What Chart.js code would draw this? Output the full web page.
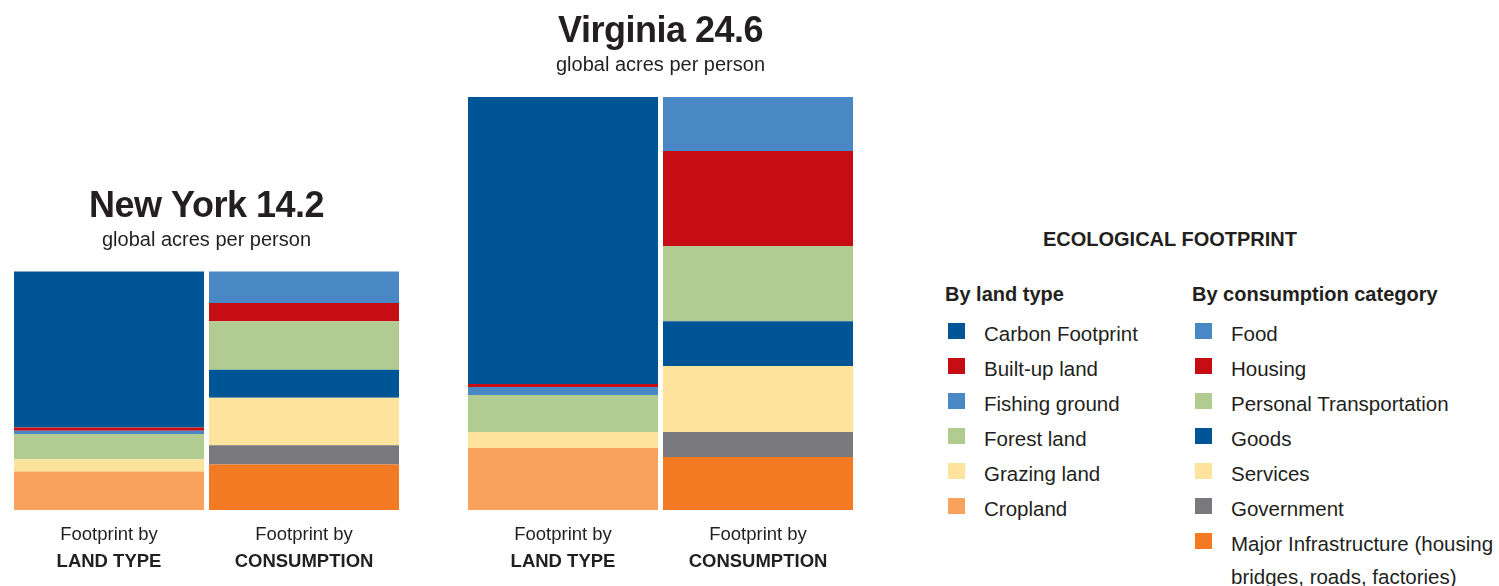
<!DOCTYPE html>
<html>
<head>
<meta charset="utf-8">
<title>Ecological Footprint</title>
<script src="https://cdn.jsdelivr.net/npm/chart.js@4.4.1/dist/chart.umd.min.js"></script>
<style>
  body {
    margin: 0;
    width: 1499px;
    height: 586px;
    overflow: hidden;
    position: relative;
    background: #fff;
    font-family: "Liberation Sans", Arial, Helvetica, sans-serif;
    color: #231f20;
  }
  .chart-box { position: absolute; top: 0; height: 586px; }
  #nyBox { left: 0; width: 420px; }
  #vaBox { left: 440px; width: 440px; }
  .legend-head {
    position: absolute;
    font-weight: bold;
    font-size: 20px;
    line-height: 20px;
    white-space: nowrap;
  }
  .legend-row {
    position: absolute;
    font-size: 20.5px;
    line-height: 35px;
    white-space: nowrap;
    padding-left: 39px;
  }
  .legend-row.wrap { white-space: normal; width: 270px; line-height: 33px; }
  .legend-row .swatch { position: absolute; left: 3px; top: 7.5px; width: 17px; height: 16px; }
  .legend-row.wrap .swatch { top: 6.5px; }
</style>
</head>
<body>
<div class="chart-box" id="nyBox"><canvas id="nyChart"></canvas></div>
<div class="chart-box" id="vaBox"><canvas id="vaChart"></canvas></div>
<div id="legend"></div>

<script>
// Ecological footprint per person, global acres
const states = ['New York', 'Virginia'];
const totals = [14.2, 24.6];
const barNames = ['LAND TYPE', 'CONSUMPTION'];

const landTypes = ['Carbon Footprint', 'Built-up land', 'Fishing ground', 'Forest land', 'Grazing land', 'Cropland'];
const consumptionCategories = ['Food', 'Housing', 'Personal Transportation', 'Goods', 'Services', 'Government',
    'Major Infrastructure (housing bridges, roads, factories)'];

const newYorkLand = [9.28, 0.20, 0.20, 1.50, 0.72, 2.30];
const newYorkConsumption = [1.87, 1.08, 2.89, 1.68, 2.83, 1.14, 2.71];
const virginiaLand = [17.09, 0.18, 0.48, 2.20, 0.95, 3.70];
const virginiaConsumption = [3.22, 5.66, 4.47, 2.68, 3.93, 1.49, 3.15];

const landColors = ['#005596', '#c50d13', '#4a88c5', '#b2cb91', '#fee39c', '#f8a25e'];
const consumptionColors = ['#4a88c5', '#c50d13', '#b2cb91', '#005596', '#fee39c', '#79797d', '#f37a22'];

const FONT = '"Liberation Sans", Arial, Helvetica, sans-serif';
const TEXT = '#231f20';

function buildDatasets(land, consumption) {
    const sets = [];
    // stacks grow from the bottom, so the last legend entry goes in first
    for (let i = landTypes.length - 1; i >= 0; i--) {
        sets.push({ label: landTypes[i], data: [land[i], null], backgroundColor: landColors[i] });
    }
    for (let i = consumptionCategories.length - 1; i >= 0; i--) {
        sets.push({ label: consumptionCategories[i], data: [null, consumption[i]], backgroundColor: consumptionColors[i] });
    }
    return sets;
}

// state name + total over the stacks, two-line caption under each bar
const stateTitles = {
    id: 'stateTitles',
    afterDraw(chart, args, opts) {
        const ctx = chart.ctx;
        const x = chart.scales.x;
        const y = chart.scales.y;
        const area = chart.chartArea;
        const cx = (area.left + area.right) / 2;
        const top = y.getPixelForValue(opts.total);
        ctx.save();
        ctx.fillStyle = TEXT;
        ctx.textAlign = 'center';
        ctx.textBaseline = 'alphabetic';
        ctx.font = 'bold 36px ' + FONT;
        ctx.letterSpacing = '-0.5px';
        ctx.fillText(opts.name + ' ' + opts.total.toFixed(1), cx, top - 55);
        ctx.letterSpacing = '0px';
        ctx.font = '20px ' + FONT;
        ctx.fillText('global acres per person', cx, top - 26);
        barNames.forEach((name, i) => {
            const bx = x.getPixelForValue(i);
            ctx.font = '18.5px ' + FONT;
            ctx.fillText('Footprint by', bx, y.bottom + 30);
            ctx.font = 'bold 18.5px ' + FONT;
            ctx.fillText(name, bx, y.bottom + 57);
        });
        ctx.restore();
    }
};

function makeChart(canvasId, index, land, consumption, padding) {
    return new Chart(document.getElementById(canvasId), {
        type: 'bar',
        data: { labels: barNames, datasets: buildDatasets(land, consumption) },
        options: {
            responsive: true,
            maintainAspectRatio: false,
            animation: false,
            layout: { padding: padding },
            datasets: { bar: { categoryPercentage: 1, barPercentage: 190 / 195, borderWidth: 0 } },
            scales: {
                x: { stacked: true, display: false },
                y: { stacked: true, display: false, min: 0, max: Math.max(...totals) }
            },
            plugins: {
                legend: { display: false },
                tooltip: { enabled: false },
                stateTitles: { name: states[index], total: totals[index] }
            }
        },
        plugins: [stateTitles]
    });
}

makeChart('nyChart', 0, newYorkLand, newYorkConsumption, { left: 11.5, right: 18.5, top: 97, bottom: 76 });
makeChart('vaChart', 1, virginiaLand, virginiaConsumption, { left: 25.5, right: 24.5, top: 97, bottom: 76 });

// legend on the right
function renderLegend() {
    const legend = document.getElementById('legend');
    const head = (text, left, top, width) => {
        const d = document.createElement('div');
        d.className = 'legend-head';
        d.textContent = text;
        d.style.left = left + 'px';
        d.style.top = top + 'px';
        if (width) { d.style.width = width + 'px'; d.style.textAlign = 'center'; }
        legend.appendChild(d);
    };
    head('ECOLOGICAL FOOTPRINT', 1020, 229, 300);
    head('By land type', 945, 284);
    head('By consumption category', 1192, 284);

    const addRows = (labels, colors, left) => {
        labels.forEach((label, i) => {
            const row = document.createElement('div');
            row.className = 'legend-row';
            const baseline = 340 + 35 * i;
            if (label.length > 30) {
                row.classList.add('wrap');
                row.style.top = (baseline - 23.4) + 'px';
            } else {
                row.style.top = (baseline - 24.4) + 'px';
            }
            row.style.left = left + 'px';
            const sw = document.createElement('span');
            sw.className = 'swatch';
            sw.style.background = colors[i];
            row.appendChild(sw);
            row.appendChild(document.createTextNode(label));
            legend.appendChild(row);
        });
    };
    addRows(landTypes, landColors, 945);
    addRows(consumptionCategories, consumptionColors, 1192);
}
renderLegend();
</script>
</body>
</html>
